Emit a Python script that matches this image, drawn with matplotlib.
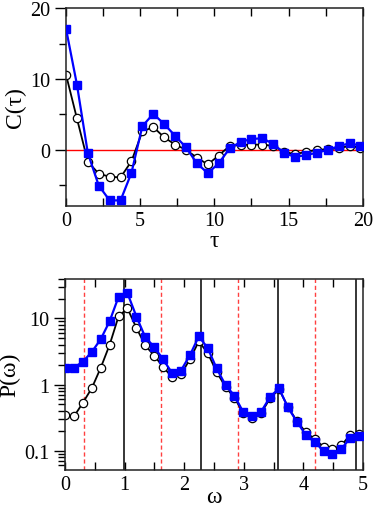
import numpy as np
import matplotlib
matplotlib.use("Agg")
import matplotlib.pyplot as plt
from matplotlib.ticker import MultipleLocator, LogLocator, FixedLocator, NullFormatter

plt.rcParams['font.family'] = ['Liberation Serif', 'DejaVu Serif']

# correlation function, top panel
tau = [0.0, 0.735, 1.47, 2.205, 2.94, 3.675, 4.41, 5.145, 5.88, 6.615, 7.35, 8.085,
       8.82, 9.555, 10.29, 11.025, 11.76, 12.495, 13.23, 13.965, 14.70, 15.435,
       16.17, 16.905, 17.64, 18.375, 19.11, 19.845]
c_blue = [17.1, 9.2, -0.5, -5.1, -7.2, -7.2, -3.3, 3.3, 5.05, 3.6, 1.95, 0.3,
          -1.95, -3.35, -1.95, 0.15, 1.07, 1.49, 1.59, 0.8, -0.5, -1.04,
          -0.8, -0.45, -0.05, 0.46, 0.89, 0.55]
c_black = [10.6, 4.4, -1.72, -3.42, -3.85, -3.95, -1.66, 2.55, 3.18, 1.73, 0.70, -0.03,
           -1.15, -2.11, -0.85, 0.51, 0.65, 0.70, 0.70, 0.51, -0.33, -0.66,
           -0.33, -0.05, 0.05, 0.19, 0.51, 0.25]

# power spectrum, bottom panel
omega = [0.0, 0.15, 0.299, 0.449, 0.598, 0.748, 0.898, 1.047, 1.197, 1.346, 1.496,
         1.646, 1.795, 1.945, 2.094, 2.244, 2.394, 2.543, 2.693, 2.842, 2.992,
         3.142, 3.291, 3.441, 3.590, 3.740, 3.890, 4.039, 4.189, 4.338, 4.488,
         4.638, 4.787, 4.937]
p_blue = [1.8, 1.8, 2.22, 3.12, 4.85, 9.1, 21.3, 24.1, 10.7, 5.2, 3.7,
          2.4, 1.5, 1.63, 2.77, 5.35, 3.56, 1.76, 0.98, 0.68, 0.38,
          0.33, 0.39, 0.65, 0.88, 0.45, 0.275, 0.173, 0.137, 0.098, 0.088,
          0.106, 0.157, 0.165]
p_black = [0.345, 0.33, 0.53, 0.885, 1.79, 4.0, 10.8, 14.2, 7.2, 3.9, 2.75,
           1.84, 1.3, 1.43, 2.4, 4.5, 3.0, 1.55, 0.92, 0.63, 0.37,
           0.31, 0.37, 0.62, 0.85, 0.46, 0.28, 0.19, 0.15, 0.114, 0.105,
           0.12, 0.175, 0.18]
black_lines = [0.99, 2.285, 3.575, 4.875]
red_lines = [0.31, 1.605, 2.91, 4.2]

TICK_FS = 14.5
LABEL_FS = 17

fig = plt.figure(figsize=(3.74, 5.10), dpi=100)


def style_axes(ax):
    for sp in ax.spines.values():
        sp.set_linewidth(1.1)
        sp.set_color('#222222')
    ax.tick_params(axis='x', which='both', direction='in', top=True, bottom=True,
                   labelsize=TICK_FS, pad=4, width=1, length=6)
    ax.tick_params(axis='y', which='both', direction='out', left=True, right=False,
                   labelsize=TICK_FS, pad=3, width=1)
    ax.tick_params(axis='y', which='major', length=8)
    ax.tick_params(axis='y', which='minor', length=5)


# top: C(tau)
ax1 = fig.add_axes([0.1765, 0.5947, 0.7935, 0.3873])
ax1.axhline(0, color='red', lw=1.0, zorder=1)
ax1.plot(tau, c_black, color='black', lw=1.3, marker='o', ms=6,
         mfc='white', mec='black', mew=0.9, zorder=2)
ax1.plot(tau, c_blue, color='blue', lw=1.6, marker='s', ms=5.5,
         mfc='blue', mec='blue', zorder=3)
ax1.set_xlim(0, 20)
ax1.set_ylim(-7.95, 20)
ax1.xaxis.set_major_locator(MultipleLocator(5))
ax1.xaxis.set_minor_locator(MultipleLocator(2.5))
ax1.yaxis.set_major_locator(MultipleLocator(10))
ax1.yaxis.set_minor_locator(MultipleLocator(5))
style_axes(ax1)
ax1.set_xlabel('τ', fontsize=LABEL_FS, labelpad=0)
ax1.set_ylabel('C(τ)', fontsize=LABEL_FS, labelpad=3)

# bottom: P(omega)
ax2 = fig.add_axes([0.174, 0.0771, 0.7966, 0.3745])
for x in black_lines:
    ax2.axvline(x, color='black', lw=1.1, zorder=1)
for x in red_lines:
    ax2.axvline(x, color='#ff4040', lw=1.0, ls=(0, (3, 2)), zorder=1)
ax2.plot(omega, p_black, color='black', lw=1.3, marker='o', ms=6,
         mfc='white', mec='black', mew=0.9, zorder=2)
ax2.plot(omega, p_blue, color='blue', lw=1.6, marker='s', ms=5.5,
         mfc='blue', mec='blue', zorder=3)
ax2.set_yscale('log')
ax2.set_xlim(0, 5)
ax2.set_ylim(0.0515, 40)
ax2.xaxis.set_major_locator(MultipleLocator(1))
ax2.xaxis.set_minor_locator(MultipleLocator(0.5))
ax2.yaxis.set_major_locator(FixedLocator([0.1, 1, 10]))
ax2.set_yticklabels(['0.1', '1', '10'])
ax2.yaxis.set_minor_locator(LogLocator(base=10, subs=np.arange(2, 10)))
ax2.yaxis.set_minor_formatter(NullFormatter())
style_axes(ax2)
ax2.set_xlabel('ω', fontsize=LABEL_FS, labelpad=-6)
ax2.set_ylabel('P(ω)', fontsize=LABEL_FS, labelpad=3)

fig.savefig('out.png', dpi=100)
